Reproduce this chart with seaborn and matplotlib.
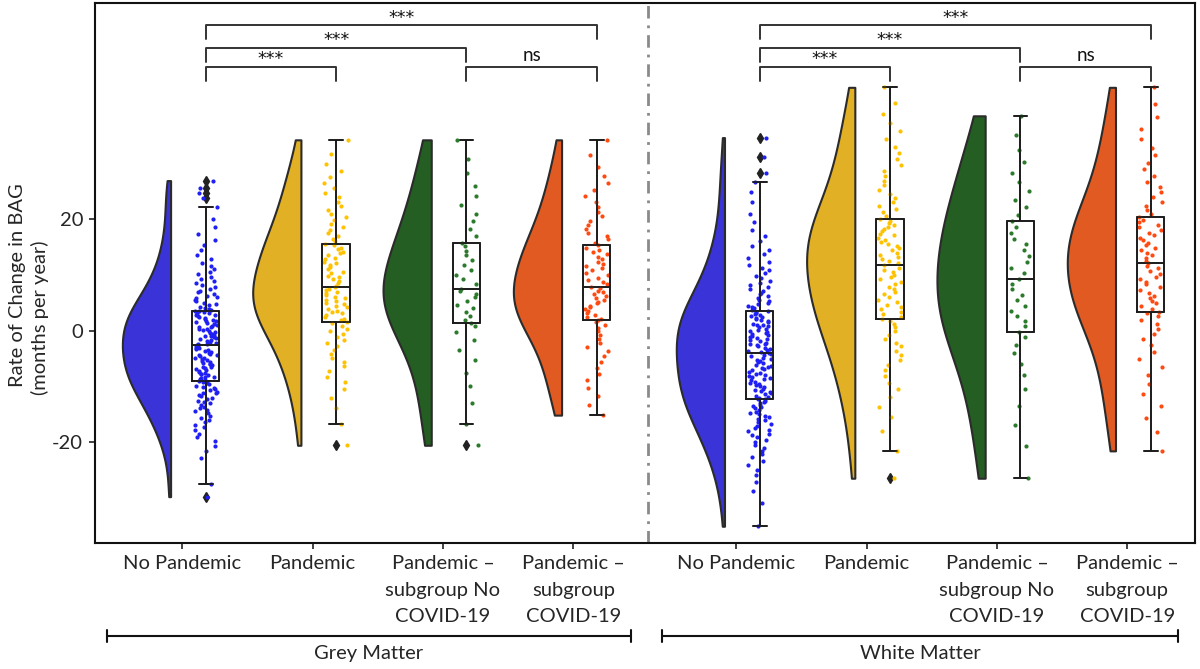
import numpy as np
import pandas as pd
import seaborn as sns
import matplotlib.pyplot as plt

# --- categories / labels ---
groups = ["No Pandemic", "Pandemic", "Pandemic \u2013\nsubgroup No\nCOVID-19", "Pandemic \u2013\nsubgroup\nCOVID-19"]
panels = ["Grey Matter", "White Matter"]
fill_colors = ["#3a33d8", "#e2b024", "#245e22", "#e05a22"]
dot_colors = ["#2020f5", "#ffc200", "#2c7a2c", "#ff4a12"]

# --- values (months per year) ---
gm_no_pandemic = [
    -29.7, -27.5, -22.8, -21.6, -20.6, -19.7, -19.0, -18.4, -17.7, -17.3, -16.8, -16.3, -15.9, -15.6,
    -15.2, -14.8, -14.4, -14.2, -13.9, -13.6, -13.3, -13.0, -12.8, -12.5, -12.2, -12.0, -11.7, -11.5,
    -11.2, -11.1, -10.9, -10.6, -10.4, -10.2, -10.0, -9.8, -9.6, -9.4, -9.2, -9.0,
    -8.95,
    -8.8, -8.6, -8.5, -8.3, -8.2, -8.0, -7.8, -7.7, -7.5, -7.3, -7.2, -7.0, -6.9, -6.7, -6.5, -6.4,
    -6.2, -6.0, -5.9, -5.7, -5.6, -5.4, -5.2, -5.1, -4.9, -4.8, -4.6, -4.4, -4.3, -4.1, -3.9, -3.8,
    -3.6, -3.5, -3.3, -3.1, -3.0, -2.8, -2.7,
    -2.6,
    -2.4, -2.3, -2.1, -2.0, -1.8, -1.7, -1.5, -1.3, -1.2, -1.0, -0.9, -0.7, -0.5, -0.4, -0.2, -0.1,
    0.1, 0.3, 0.4, 0.6, 0.7, 0.9, 1.0, 1.2, 1.4, 1.5, 1.7, 1.8, 2.0, 2.1, 2.3, 2.5, 2.6, 2.8, 2.9,
    3.1, 3.2, 3.4, 3.5,
    3.6,
    3.7, 3.9, 4.1, 4.3, 4.6, 4.8, 5.0, 5.3, 5.5, 5.8, 6.0, 6.3, 6.6, 6.9, 7.2, 7.5, 7.8, 8.2, 8.5,
    8.9, 9.3, 9.7, 10.1, 10.6, 11.1, 11.6, 12.2, 12.9, 13.6, 14.4, 15.3, 16.3, 17.4, 18.6, 20.0,
    22.1, 23.7, 24.6, 25.6, 26.9,
]
gm_pandemic = [
    -20.5, -16.65, -13.9, -12.0, -10.5, -9.2, -8.2, -7.2, -6.3, -5.5, -4.8, -4.1, -3.4, -2.8, -2.2,
    -1.6, -1.1, -0.6, -0.1, 0.4, 0.9, 1.4,
    1.6,
    1.9, 2.2, 2.5, 2.8, 3.1, 3.4, 3.6, 3.9, 4.2, 4.5, 4.8, 5.0, 5.3, 5.6, 5.9, 6.1, 6.4, 6.7, 7.0,
    7.3, 7.5,
    7.8,
    8.1, 8.5, 8.9, 9.2, 9.6, 9.9, 10.3, 10.6, 11.0, 11.4, 11.7, 12.1, 12.4, 12.8, 13.1, 13.5, 13.9,
    14.2, 14.6, 14.9, 15.3,
    15.6,
    16.0, 16.5, 17.0, 17.5, 18.0, 18.6, 19.2, 19.8, 20.4, 21.0, 21.7, 22.4, 23.1, 23.9, 24.7, 25.6,
    26.5, 27.5, 28.6, 29.9, 31.6, 34.2,
]
gm_sub_no_covid = [
    -20.5, -16.65, -13.0, -9.8, -7.5, -5.3, -3.4, -1.7, -0.3, 0.8,
    1.4,
    2.0, 2.7, 3.4, 4.0, 4.7, 5.3, 6.0, 6.6, 7.1,
    7.5,
    8.3, 9.2, 10.0, 10.9, 11.8, 12.6, 13.5, 14.3, 15.1,
    15.8,
    16.9, 18.2, 19.6, 21.0, 22.5, 24.2, 26.0, 28.2, 30.8, 34.2,
]
gm_sub_covid = [
    -15.1, -13.2, -11.6, -10.2, -8.9, -7.7, -6.6, -5.6, -4.6, -3.7, -2.9, -2.1, -1.4, -0.7, -0.1,
    0.5, 1.0, 1.5,
    1.85,
    2.2, 2.5, 2.9, 3.2, 3.5, 3.9, 4.2, 4.5, 4.9, 5.2, 5.5, 5.9, 6.2, 6.6, 6.9, 7.2, 7.6,
    7.9,
    8.3, 8.7, 9.1, 9.5, 10.0, 10.4, 10.8, 11.2, 11.6, 12.0, 12.4, 12.8, 13.3, 13.7, 14.1, 14.5, 14.9,
    15.3,
    15.8, 16.4, 17.0, 17.6, 18.3, 19.0, 19.7, 20.5, 21.3, 22.2, 23.1, 24.1, 25.2, 26.4, 27.8, 29.4,
    31.4, 34.2,
]
wm_no_pandemic = [
    -35.0, -30.8, -28.6, -27.1, -25.9, -24.9, -24.0, -23.3, -22.6, -22.0, -21.5, -20.9, -20.5, -20.0,
    -19.6, -19.1, -18.7, -18.4, -18.0, -17.7, -17.4, -17.0, -16.7, -16.4, -16.0, -15.8, -15.5, -15.3,
    -14.9, -14.7, -14.5, -14.2, -13.9, -13.7, -13.5, -13.3, -12.9, -12.7, -12.5, -12.3,
    -12.2,
    -12.0, -11.8, -11.6, -11.4, -11.2, -11.0, -10.8, -10.6, -10.4, -10.1, -9.9, -9.7, -9.5, -9.3,
    -9.1, -8.9, -8.7, -8.5, -8.3, -8.1, -7.9, -7.7, -7.5, -7.3, -7.1, -6.9, -6.7, -6.5, -6.3, -6.1,
    -5.8, -5.6, -5.4, -5.2, -5.0, -4.8, -4.6, -4.4, -4.2,
    -4.0,
    -3.8, -3.6, -3.4, -3.2, -3.0, -2.8, -2.6, -2.4, -2.3, -2.1, -1.9, -1.7, -1.5, -1.3, -1.1, -0.9,
    -0.7, -0.5, -0.4, -0.2, 0.0, 0.2, 0.4, 0.6, 0.8, 1.0, 1.1, 1.3, 1.5, 1.7, 1.9, 2.1, 2.3, 2.5,
    2.7, 2.9, 3.0, 3.2, 3.4,
    3.6,
    3.8, 4.0, 4.3, 4.5, 4.8, 5.0, 5.3, 5.6, 5.9, 6.2, 6.5, 6.8, 7.1, 7.5, 7.8, 8.2, 8.6, 9.0, 9.4,
    9.8, 10.3, 10.8, 11.3, 11.8, 12.4, 13.0, 13.7, 14.4, 15.2, 16.0, 17.0, 18.1, 19.4, 21.0, 23.0,
    24.8, 26.7, 28.3, 31.2, 34.6,
]
wm_pandemic = [
    -26.4, -21.5, -18.0, -15.5, -13.6, -11.9, -10.5, -9.3, -8.1, -7.1, -6.1, -5.2, -4.4, -3.6, -2.8,
    -2.1, -1.4, -0.7, 0.0, 0.6, 1.2, 1.8,
    2.1,
    2.5, 3.0, 3.4, 3.9, 4.3, 4.7, 5.2, 5.6, 6.1, 6.5, 7.0, 7.4, 7.8, 8.3, 8.7, 9.2, 9.6, 10.0, 10.5,
    10.9, 11.3,
    11.75,
    12.1, 12.5, 12.9, 13.3, 13.6, 14.0, 14.4, 14.8, 15.2, 15.5, 15.9, 16.3, 16.7, 17.1, 17.4, 17.8,
    18.2, 18.6, 19.0, 19.3, 19.7,
    20.1,
    20.6, 21.2, 21.8, 22.4, 23.1, 23.8, 24.5, 25.3, 26.1, 26.9, 27.8, 28.7, 29.7, 30.7, 31.8, 33.0,
    34.3, 35.7, 37.2, 38.8, 40.8, 43.6,
]
wm_sub_no_covid = [
    -26.4, -20.6, -16.8, -13.5, -10.4, -8.0, -5.9, -4.0, -2.5, -1.2,
    -0.2,
    0.8, 1.7, 2.6, 3.6, 4.5, 5.5, 6.4, 7.4, 8.3,
    9.25,
    10.3, 11.3, 12.4, 13.4, 14.4, 15.5, 16.5, 17.5, 18.6,
    19.6,
    20.8, 22.1, 23.5, 25.0, 26.6, 28.3, 30.2, 32.4, 35.0, 38.5,
]
wm_sub_covid = [
    -21.5, -18.2, -15.6, -13.4, -11.4, -9.6, -8.0, -6.5, -5.1, -3.8, -2.6, -1.5, -0.5, 0.4, 1.2,
    2.0, 2.6, 3.1,
    3.45,
    3.9, 4.4, 4.9, 5.4, 5.8, 6.3, 6.8, 7.3, 7.8, 8.3, 8.8, 9.2, 9.7, 10.2, 10.7, 11.2, 11.6,
    12.1,
    12.5, 13.0, 13.5, 13.9, 14.4, 14.8, 15.3, 15.7, 16.2, 16.7, 17.1, 17.6, 18.0, 18.5, 18.9, 19.4,
    19.8,
    20.3,
    20.9, 21.6, 22.3, 23.1, 23.9, 24.8, 25.7, 26.7, 27.8, 28.9, 30.1, 31.4, 32.8, 34.4, 36.2, 38.3,
    40.7, 43.6,
]

# significance brackets: (group a, group b, label)
comparisons = [(0, 1, "***"), (0, 2, "***"), (0, 3, "***"), (2, 3, "ns")]
bracket_heights = [47.3, 50.7, 54.7, 47.3]

panel_data = {
    "Grey Matter": [gm_no_pandemic, gm_pandemic, gm_sub_no_covid, gm_sub_covid],
    "White Matter": [wm_no_pandemic, wm_pandemic, wm_sub_no_covid, wm_sub_covid],
}

# --- layout ---
ticks = [0, 1, 2, 3, 4.25, 5.25, 6.25, 7.25]
violin_width = 0.37
violin_shift = -0.09 - violin_width / 2   # flat side sits just left of the tick
box_shift = 0.18

rows = []
for p, panel in enumerate(panels):
    for g, vals in enumerate(panel_data[panel]):
        t = ticks[p * 4 + g]
        for v in vals:
            rows.append({"panel": panel, "group": g, "value": v,
                         "vpos": t + violin_shift, "bpos": t + box_shift})
df = pd.DataFrame(rows)

sns.set_style("white")
plt.rcParams["font.family"] = ["Lato", "DejaVu Sans"]
np.random.seed(3)

fig = plt.figure(figsize=(12, 6.69), dpi=100)
ax = fig.add_axes([95 / 1200, 126 / 669, 1100 / 1200, 540 / 669])

# half violins
for p, panel in enumerate(panels):
    for g in range(4):
        sub = df[(df.panel == panel) & (df.group == g)]
        sns.violinplot(data=sub, x="vpos", y="value", native_scale=True, orient="x",
                       split=True, inner=None, cut=0, density_norm="width",
                       width=violin_width, color=fill_colors[g], linecolor="#2b2b2b",
                       linewidth=1.5, saturation=1, ax=ax)

# white boxes
sns.boxplot(data=df, x="bpos", y="value", native_scale=True, orient="x", width=0.21,
            color="white", linecolor="#1a1a1a", linewidth=1.2, saturation=1,
            fliersize=5.5, flierprops=dict(marker="d", markerfacecolor="#222222",
                                           markeredgecolor="#222222"), ax=ax)

# points
for p, panel in enumerate(panels):
    for g in range(4):
        sub = df[(df.panel == panel) & (df.group == g)]
        sns.stripplot(data=sub, x="bpos", y="value", native_scale=True, orient="x",
                      jitter=0.09, size=3.0, color=dot_colors[g], linewidth=0,
                      zorder=3, ax=ax)

# box outlines on top of the points
sns.boxplot(data=df, x="bpos", y="value", native_scale=True, orient="x", width=0.21,
            fill=False, color="#1a1a1a", linewidth=1.2, showfliers=False, zorder=4, ax=ax)

# significance brackets
for p in range(2):
    for (a, b, lab), h in zip(comparisons, bracket_heights):
        xa = ticks[p * 4 + a] + box_shift
        xb = ticks[p * 4 + b] + box_shift
        ax.plot([xa, xa, xb, xb], [h - 2.5, h, h, h - 2.5], color="#333333", lw=1.4,
                zorder=5)
        if lab == "ns":
            ax.text((xa + xb) / 2, h + 0.4, lab, ha="center", va="bottom",
                    fontsize=13.5, color="#111111")
        else:
            ax.text((xa + xb) / 2, h - 0.3, lab, ha="center", va="bottom",
                    fontsize=12.5, color="#111111", family=["DejaVu Sans"])

# panel divider
ax.axvline(3.57, color="#8a8a8a", lw=2, ls=(0, (4.5, 2.5, 1, 2.5)), zorder=0)

ax.set_xlim(-0.67, 7.77)
ax.set_ylim(-38, 58.7)
ax.set_yticks([-20, 0, 20])
ax.set_yticklabels(["-20", "0", "20"], fontsize=14.5)
ax.set_xticks(ticks)
ax.set_xticklabels(groups * 2, fontsize=14.5, linespacing=1.7)
ax.tick_params(axis="both", direction="out", length=4.5, width=1.2, color="#222222",
               bottom=True, left=True, pad=4)
ax.set_xlabel("")
ax.set_ylabel("")
for s in ax.spines.values():
    s.set_color("#111111")
    s.set_linewidth(1.5)

fig.text(18 / 1200, 1 - 285 / 669, "Rate of Change in BAG", rotation=90,
         ha="center", va="center", fontsize=14.5)
fig.text(40 / 1200, 1 - 318 / 669, "(months per year)", rotation=90,
         ha="center", va="center", fontsize=14.5)

# panel brackets below the axis
trans = ax.get_xaxis_transform()
spans = [(-0.58, 3.44), (3.68, 7.64)]
for (x0, x1), name in zip(spans, panels):
    ax.plot([x0, x1], [-0.172, -0.172], color="#111111", lw=1.5, transform=trans,
            clip_on=False)
    for xe in (x0, x1):
        ax.plot([xe, xe], [-0.161, -0.183], color="#111111", lw=1.5, transform=trans,
                clip_on=False)
    ax.text((x0 + x1) / 2, -0.204, name, ha="center", va="center", fontsize=14.5,
            transform=trans)

fig.savefig("out.png", dpi=100)
